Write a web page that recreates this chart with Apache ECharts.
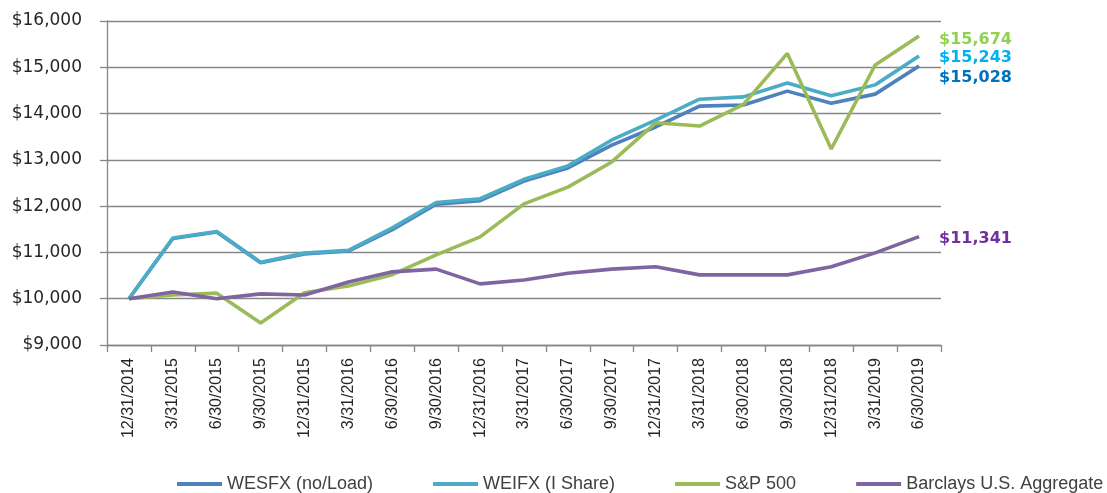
<!DOCTYPE html>
<html>
<head>
<meta charset="utf-8">
<script src="https://cdn.jsdelivr.net/npm/echarts@6/dist/echarts.min.js"></script>
<style>
html,body{margin:0;padding:0;background:#fff;}
#chart{width:1107px;height:493px;}
</style>
</head>
<body>
<div id="chart"></div>
<script>
var categories = ["12/31/2014","3/31/2015","6/30/2015","9/30/2015","12/31/2015","3/31/2016","6/30/2016","9/30/2016","12/31/2016","3/31/2017","6/30/2017","9/30/2017","12/31/2017","3/31/2018","6/30/2018","9/30/2018","12/31/2018","3/31/2019","6/30/2019"];
var wesfx = [10000,11300,11440,10775,10968,11030,11490,12040,12120,12540,12825,13320,13710,14160,14185,14485,14225,14420,15028];
var weifx = [10000,11310,11450,10790,10985,11045,11530,12080,12160,12580,12870,13430,13860,14310,14360,14660,14385,14620,15243];
var sp500 = [10000,10080,10120,9477,10130,10277,10520,10946,11335,12050,12410,12955,13800,13730,14200,15300,13235,15050,15674];
var barclays = [10000,10147,10000,10104,10080,10363,10580,10640,10320,10406,10550,10640,10690,10515,10515,10515,10690,10990,11341];
var seriesNames = ["WESFX (no/Load)","WEIFX (I Share)","S&P 500","Barclays U.S. Aggregate"];
var endLabels = ["$15,028","$15,243","$15,674","$11,341"];
var yTicks = {min:9000, max:16000, interval:1000};

var lineColors = ["#4f81bd","#4bacc6","#9bbb59","#8064a2"];
var labelColors = ["#0070c0","#00b0f0","#92d050","#7030a0"];
var labelOffsets = [[0,12],[0,1.5],[0,3.5],[0,2]];
var dataSets = [wesfx, weifx, sp500, barclays];

var chart = echarts.init(document.getElementById('chart'), null, {renderer:'canvas'});
var series = dataSets.map(function(d, i){
  return {
    name: seriesNames[i],
    type: 'line',
    data: d,
    symbol: 'none',
    showSymbol: false,
    smooth: false,
    lineStyle: {color: lineColors[i], width: 3.6},
    itemStyle: {color: lineColors[i]},
    z: 2 + i,
    animation: false,
    endLabel: {
      show: true,
      formatter: endLabels[i],
      color: labelColors[i],
      fontFamily: 'DejaVu Sans',
      fontWeight: 'bold',
      fontSize: 16,
      distance: 20,
      offset: labelOffsets[i]
    }
  };
});

chart.setOption({
  animation: false,
  backgroundColor: '#ffffff',
  grid: {left: 107, right: 166, top: 21, bottom: 148, containLabel: false},
  legend: {
    data: seriesNames,
    left: 177,
    top: 475,
    padding: 0,
    icon: 'rect',
    itemWidth: 45,
    itemHeight: 4,
    itemGap: 60,
    textStyle: {fontFamily: 'Liberation Sans', fontSize: 18, color: '#404040'}
  },
  xAxis: {
    type: 'category',
    data: categories,
    boundaryGap: true,
    axisLine: {lineStyle: {color: '#868686', width: 1.3}},
    axisTick: {show: true, length: 7, lineStyle: {color: '#868686', width: 1.3}},
    axisLabel: {rotate: 90, margin: 13, fontFamily: 'Liberation Sans', fontSize: 16, color: '#262626', interval: 0}
  },
  yAxis: {
    type: 'value',
    min: yTicks.min, max: yTicks.max, interval: yTicks.interval,
    axisLine: {show: true, lineStyle: {color: '#868686', width: 1.3}},
    axisTick: {show: true, length: 7, lineStyle: {color: '#868686', width: 1.3}},
    splitLine: {show: true, lineStyle: {color: '#868686', width: 1.3}},
    axisLabel: {
      margin: 25,
      fontFamily: 'DejaVu Sans', fontSize: 17, color: '#262626',
      formatter: function(v){ return '$' + v.toLocaleString('en-US'); }
    }
  },
  series: series
});
</script>
</body>
</html>
